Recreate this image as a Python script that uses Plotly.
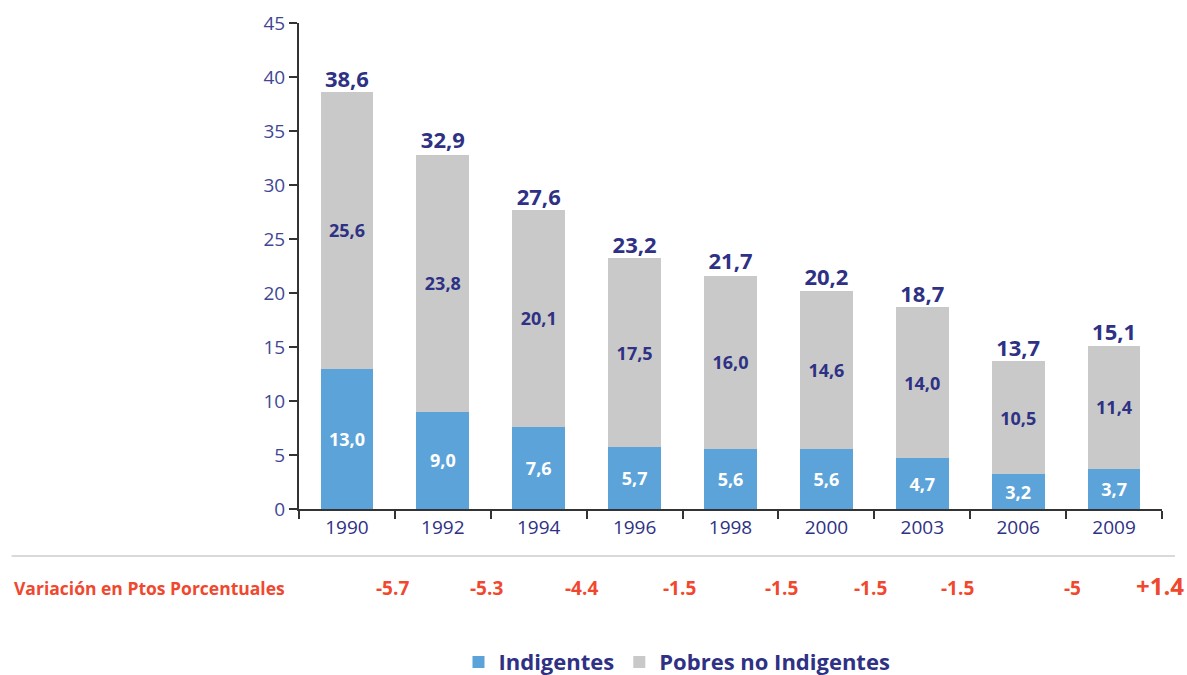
import plotly.graph_objects as go

years = ["1990", "1992", "1994", "1996", "1998", "2000", "2003", "2006", "2009"]
indigentes = [13.0, 9.0, 7.6, 5.7, 5.6, 5.6, 4.7, 3.2, 3.7]
pobres_no_ind = [25.6, 23.8, 20.1, 17.5, 16.0, 14.6, 14.0, 10.5, 11.4]
totales = [38.6, 32.9, 27.6, 23.2, 21.7, 20.2, 18.7, 13.7, 15.1]
variacion = ["-5.7", "-5.3", "-4.4", "-1.5", "-1.5", "-1.5", "-1.5", "-5", "+1.4"]
var_pos = [0.47, 1.46, 2.45, 3.47, 4.53, 5.46, 6.37, 7.57, 8.48]

NAVY = "#2E3184"
TICK = "#3F4794"
RED = "#F0482E"
BLUE = "#5BA3D9"
GRAY = "#C9C9C9"
FONT = "Open Sans"

def fmt(v):
    return f"{v:.1f}".replace(".", ",")

fig = go.Figure()
fig.add_trace(go.Bar(
    x=years, y=indigentes, name="Indigentes", marker=dict(color=BLUE, line=dict(width=0)),
    width=0.55, text=[fmt(v) for v in indigentes], textposition="inside",
    insidetextanchor="middle", constraintext="none",
    textfont=dict(family=FONT, size=18, color="white", weight="bold"),
))
fig.add_trace(go.Bar(
    x=years, y=pobres_no_ind, name="Pobres no Indigentes", marker=dict(color=GRAY, line=dict(width=0)),
    width=0.55, text=[fmt(v) for v in pobres_no_ind], textposition="inside",
    insidetextanchor="middle", constraintext="none",
    textfont=dict(family=FONT, size=18, color=NAVY, weight="bold"),
))
fig.add_trace(go.Scatter(
    x=years, y=totales, mode="text", text=[fmt(v) for v in totales],
    textposition="top center", showlegend=False, hoverinfo="skip",
    textfont=dict(family=FONT, size=22, color=NAVY, weight="bold"),
))

for v, p in zip(variacion, var_pos):
    big = v.startswith("+")
    fig.add_annotation(
        x=p, y=-0.1626, xref="x", yref="paper", yanchor="middle", text=v, showarrow=False,
        font=dict(family=FONT, size=24 if big else 19, color=RED, weight="bold"),
        yshift=3 if big else 0,
    )
fig.add_annotation(
    x=-0.3326, y=-0.1626, xref="paper", yref="paper", xanchor="left", yanchor="middle",
    text="Variación en Ptos Porcentuales", showarrow=False,
    font=dict(family=FONT, size=17.5, color=RED, weight="bold"),
)
fig.add_shape(type="line", xref="paper", yref="paper", x0=-0.333, x1=1.015,
              y0=-0.0967, y1=-0.0967, line=dict(color="#D9D9D9", width=2))

fig.update_layout(
    width=1187, height=675,
    margin=dict(l=299, r=25, t=23, b=166, autoexpand=False),
    plot_bgcolor="white", paper_bgcolor="white",
    barmode="stack",
    font=dict(family=FONT),
    legend=dict(orientation="h", x=0.438, xanchor="center", y=-0.315, yanchor="middle",
                font=dict(family=FONT, size=22, color=NAVY, weight="bold"),
                itemsizing="constant", traceorder="normal", itemwidth=30),
    xaxis=dict(range=[-0.5, 8.5], showline=True, linecolor="#333333", linewidth=2,
               ticks="outside", tickson="boundaries", ticklen=8, tickcolor="#333333",
               tickwidth=2, tickfont=dict(family=FONT, size=19, color=NAVY), showgrid=False),
    yaxis=dict(range=[0, 45], dtick=5, showline=True, linecolor="#333333", linewidth=2,
               ticks="outside", ticklen=8, tickcolor="#333333", tickwidth=2,
               tickfont=dict(family=FONT, size=19, color=TICK), showgrid=False, zeroline=False),
)

fig.write_html("out.html", config={"displayModeBar": False},
               post_script="document.body.style.margin='0';document.body.style.overflow='hidden';")
